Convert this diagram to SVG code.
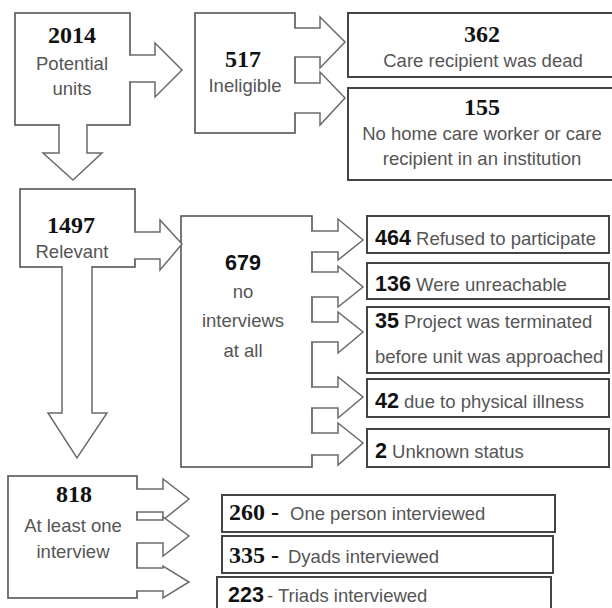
<svg xmlns="http://www.w3.org/2000/svg" width="612" height="608" viewBox="0 0 612 608">
<style>
.box{fill:#fff;stroke:#555;stroke-width:1.6}
.rbox{fill:#fff;stroke:#444;stroke-width:2}
.arr{fill:#fff;stroke:#6a6a6a;stroke-width:1.5;stroke-linejoin:miter}
.num{font-family:"Liberation Serif",serif;font-weight:bold;font-size:24px;fill:#111}
.snum{font-family:"Liberation Sans",sans-serif;font-weight:bold;font-size:21.5px;fill:#111}
.lbl{font-family:"Liberation Sans",sans-serif;font-size:18.5px;fill:#555}
.c{text-anchor:middle}
</style>
<rect width="612" height="608" fill="#fff"/>

<g id="n2014">
<rect class="box" x="15" y="13" width="115" height="112"/>
<text class="num c" x="72" y="43">2014</text>
<text class="lbl c" x="72" y="70">Potential</text>
<text class="lbl c" x="72" y="95">units</text>
</g>

<g id="n517">
<rect class="box" x="195" y="13" width="100" height="120"/>
<text class="num c" x="243" y="67">517</text>
<text class="lbl c" x="245" y="92">Ineligible</text>
</g>

<g id="n362">
<rect class="rbox" x="348" y="13" width="270" height="64"/>
<text class="num c" x="482" y="42">362</text>
<text class="lbl c" x="483" y="67">Care recipient was dead</text>
</g>

<g id="n155">
<rect class="rbox" x="348" y="88" width="270" height="92"/>
<text class="num c" x="482" y="115">155</text>
<text class="lbl c" x="482" y="140">No home care worker or care</text>
<text class="lbl c" x="482" y="165">recipient in an institution</text>
</g>

<g id="n1497">
<rect class="box" x="20" y="189" width="115" height="78"/>
<text class="num c" x="71" y="233">1497</text>
<text class="lbl c" x="72" y="258">Relevant</text>
</g>

<g id="n679">
<rect class="box" x="181" y="216" width="131" height="251"/>
<text class="snum c" x="243" y="270">679</text>
<text class="lbl c" x="243" y="298">no</text>
<text class="lbl c" x="243" y="327">interviews</text>
<text class="lbl c" x="243" y="357">at all</text>
</g>

<g id="n464">
<rect class="rbox" x="367" y="216" width="242" height="37"/>
<text class="lbl" x="375" y="245"><tspan class="snum">464</tspan> Refused to participate</text>
</g>
<g id="n136">
<rect class="rbox" x="367" y="263" width="242" height="36"/>
<text class="lbl" x="375" y="291"><tspan class="snum">136</tspan> Were unreachable</text>
</g>
<g id="n35">
<rect class="rbox" x="367" y="307" width="242" height="66"/>
<text class="lbl" x="375" y="328"><tspan class="snum">35</tspan> Project was terminated</text>
<text class="lbl" x="375" y="363">before unit was approached</text>
</g>
<g id="n42">
<rect class="rbox" x="367" y="379" width="242" height="38"/>
<text class="lbl" x="375" y="408"><tspan class="snum">42</tspan> due to physical illness</text>
</g>
<g id="n2">
<rect class="rbox" x="367" y="429" width="242" height="38"/>
<text class="lbl" x="375" y="458"><tspan class="snum">2</tspan> Unknown status</text>
</g>

<g id="n818">
<rect class="box" x="8" y="476" width="129" height="122"/>
<text class="num c" x="74" y="502">818</text>
<text class="lbl c" x="73" y="532">At least one</text>
<text class="lbl c" x="73" y="558">interview</text>
</g>

<g id="n260">
<rect class="rbox" x="222" y="495" width="333" height="37"/>
<text class="num" x="229" y="520">260 -</text>
<text class="lbl" x="290" y="520">One person interviewed</text>
</g>
<g id="n335">
<rect class="rbox" x="222" y="536" width="331" height="37"/>
<text class="num" x="229" y="563">335 -</text>
<text class="lbl" x="288" y="563">Dyads interviewed</text>
</g>
<g id="n223">
<rect class="rbox" x="217" y="577" width="334" height="40"/>
<text class="snum" x="228" y="602">223</text>
<text class="lbl" x="267" y="602">- Triads interviewed</text>
</g>

<g id="connectors">
<path class="arr" d="M129,55 H155 V43 L182,70 L155,97 V82 H129"/>
<path class="arr" d="M59,124 V153 H43 L73,180 L102,153 H87 V124"/>
<path class="arr" d="M294,28 H320 V17 L345,42 L320,68 V57 H294"/>
<path class="arr" d="M294,83 H320 V72 L345,98 L320,125 V113 H294"/>
<path class="arr" d="M134,232 H160 V220 L182,244 L160,270 V259 H134"/>
<path class="arr" d="M62,266 V413 H48 L77,458 L107,413 H92 V266"/>
<path class="arr" d="M311,231 H338 V219 L363,240 L338,260 V252 H311"/>
<path class="arr" d="M311,272 H338 V266 L363,287 L338,307 V297 H311"/>
<path class="arr" d="M311,322 H338 V312 L363,332 L338,353 V342 H311"/>
<path class="arr" d="M311,387 H338 V377 L363,397 L338,418 V408 H311"/>
<path class="arr" d="M311,433 H338 V423 L363,443 L338,465 V455 H311"/>
<path class="arr" d="M136,489 H163 V479 L189,499 L163,520 V512 H136"/>
<path class="arr" d="M136,520 H163 V517 L189,536 L163,556 V543 H136"/>
<path class="arr" d="M136,568 H163 V566 L189,582 L163,598 V591 H136"/>
</g>
</svg>
